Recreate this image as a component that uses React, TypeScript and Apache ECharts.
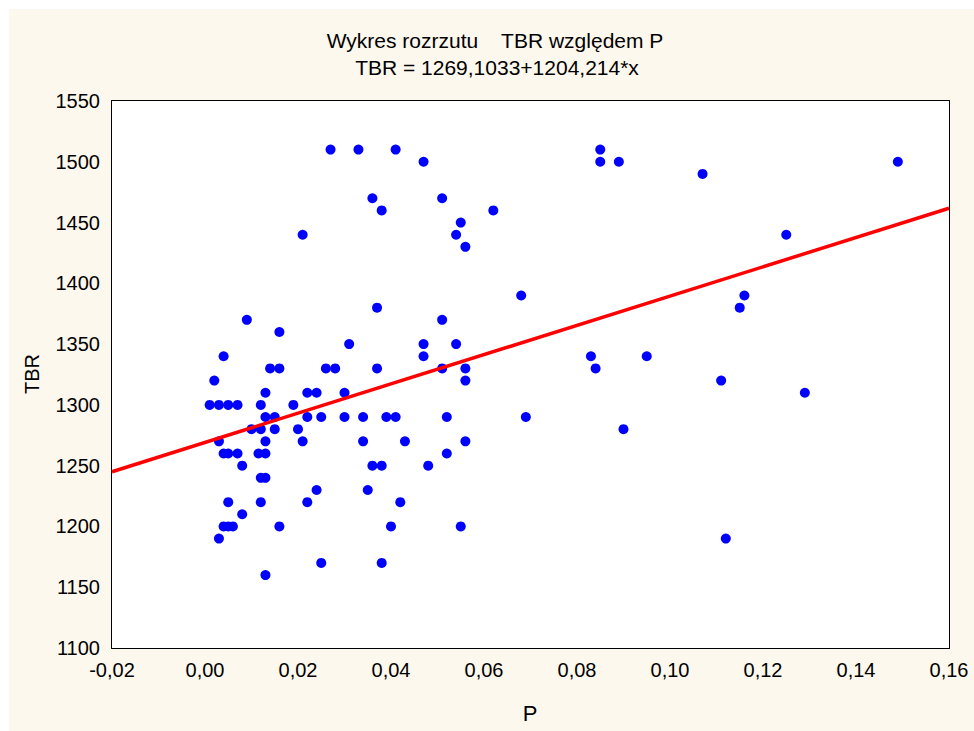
import React, { useEffect, useRef } from "react";
import * as echarts from "echarts";

const FONT = "'Liberation Sans', Arial, sans-serif";

// Scatter data: P (x) and TBR (y)
const pValues: number[] = [
  0.009, 0.016, 0.004, 0.014, 0.016, 0.002, 0.013, 0.022, 0.024, 0.001, 0.003, 0.005, 0.007, 0.012, 0.019,
  0.013, 0.015, 0.022, 0.025, 0.010, 0.012, 0.015, 0.020, 0.003, 0.013, 0.021, 0.004, 0.005, 0.007, 0.0115,
  0.013, 0.008, 0.012, 0.013, 0.024, 0.005, 0.012, 0.022, 0.008, 0.004, 0.005, 0.006, 0.016, 0.003, 0.013, 0.025,
  0.051, 0.031, 0.047, 0.054, 0.047, 0.026, 0.028, 0.037, 0.051, 0.056, 0.056, 0.030, 0.030, 0.034, 0.039,
  0.041, 0.052, 0.069, 0.034, 0.043, 0.056, 0.052, 0.036, 0.038, 0.048, 0.035, 0.042, 0.040, 0.055, 0.038,
  0.027, 0.033, 0.041, 0.047, 0.036, 0.051, 0.038, 0.062, 0.055, 0.054, 0.021, 0.056, 0.068, 0.037,
  0.085, 0.085, 0.089, 0.107, 0.149, 0.125, 0.116, 0.115, 0.083, 0.084, 0.095, 0.111, 0.129, 0.090, 0.112,
];
const tbrValues: number[] = [
  1370, 1360, 1340, 1330, 1330, 1320, 1310, 1310, 1310, 1300, 1300, 1300, 1300, 1300, 1300,
  1290, 1290, 1290, 1290, 1280, 1280, 1280, 1280, 1270, 1270, 1270, 1260, 1260, 1260, 1260,
  1260, 1250, 1240, 1240, 1230, 1220, 1220, 1220, 1210, 1200, 1200, 1200, 1200, 1190, 1160, 1170,
  1370, 1350, 1350, 1350, 1340, 1330, 1330, 1330, 1330, 1330, 1320, 1310, 1290, 1290, 1290,
  1290, 1290, 1290, 1270, 1270, 1270, 1260, 1250, 1250, 1250, 1230, 1220, 1200, 1200, 1170,
  1510, 1510, 1510, 1500, 1470, 1470, 1460, 1460, 1450, 1440, 1440, 1430, 1390, 1380,
  1510, 1500, 1500, 1490, 1500, 1440, 1390, 1380, 1340, 1330, 1340, 1320, 1310, 1280, 1190,
];

// Regression: TBR = 1269,1033 + 1204,214 * x
const intercept = 1269.1033;
const slope = 1204.214;
const lineX: number[] = [-0.02, 0.16];

const titleLines: string[] = ["Wykres rozrzutu    TBR względem P", "TBR = 1269,1033+1204,214*x"];
const xName = "P";
const yName = "TBR";

const xMin = -0.02, xMax = 0.16, xInterval = 0.02;
const yMin = 1100, yMax = 1550, yInterval = 50;

export default function App() {
  const ref = useRef<HTMLDivElement>(null);
  useEffect(() => {
    const chart = echarts.init(ref.current!, null, { renderer: "svg" });
    const axisLine = { show: true, onZero: false, lineStyle: { color: "#000", width: 2 } };
    const axisTick = { show: true, inside: true, length: 5, lineStyle: { color: "#000", width: 1.5 } };
    const minorLine = { color: "#000", width: 1.5 };
    const xFmt = (v: number) => v.toFixed(2).replace(".", ",");
    const yFmt = (v: number) => String(Math.round(v));
    const option: any = {
      animation: false,
      backgroundColor: "#ffffff",
      textStyle: { fontFamily: FONT },
      grid: { left: 112, right: 25, top: 101, bottom: 83, show: true, backgroundColor: "#ffffff", borderWidth: 0, z: 1 },
      graphic: [
        { type: "rect", left: 9, top: 9, shape: { width: 965, height: 722 }, style: { fill: "#FDF8EE" }, z: -100, silent: true },
        { type: "text", x: 495, y: 40, style: { text: titleLines[0], font: `21px ${FONT}`, fill: "#000", textAlign: "center", textVerticalAlign: "middle" } },
        { type: "text", x: 497, y: 67, style: { text: titleLines[1], font: `21px ${FONT}`, fill: "#000", textAlign: "center", textVerticalAlign: "middle" } },
        { type: "text", x: 530, y: 713, style: { text: xName, font: `22px ${FONT}`, fill: "#000", textAlign: "center", textVerticalAlign: "middle" } },
        { type: "text", x: 32, y: 374, rotation: Math.PI / 2, style: { text: yName, font: `20px ${FONT}`, fill: "#000", textAlign: "center", textVerticalAlign: "middle" } },
      ],
      xAxis: [
        {
          type: "value", position: "bottom", min: xMin, max: xMax, interval: xInterval,
          axisLine, axisTick,
          minorTick: { show: true, splitNumber: 2, length: 3, lineStyle: minorLine },
          splitLine: { show: true, lineStyle: { color: "#d8d8d8", width: 1 } },
          axisLabel: { formatter: xFmt, fontSize: 20, color: "#000", margin: 12, fontFamily: FONT },
        },
        {
          type: "value", position: "top", min: xMin, max: xMax, interval: xInterval,
          axisLine, axisTick,
          minorTick: { show: true, splitNumber: 2, length: 3, lineStyle: minorLine },
          splitLine: { show: false },
          axisLabel: { show: false },
        },
      ],
      yAxis: [
        {
          type: "value", position: "left", min: yMin, max: yMax, interval: yInterval,
          axisLine, axisTick,
          minorTick: { show: true, splitNumber: 5, length: 3, lineStyle: minorLine },
          splitLine: { show: true, lineStyle: { color: "#d8d8d8", width: 1 } },
          axisLabel: { formatter: yFmt, fontSize: 20, color: "#000", margin: 12, fontFamily: FONT },
        },
        {
          type: "value", position: "right", min: yMin, max: yMax, interval: yInterval,
          axisLine, axisTick,
          minorTick: { show: true, splitNumber: 5, length: 3, lineStyle: minorLine },
          splitLine: { show: false },
          axisLabel: { show: false },
        },
      ],
      series: [
        {
          type: "scatter", xAxisIndex: 0, yAxisIndex: 0,
          data: pValues.map((p, i) => [p, tbrValues[i]]),
          symbol: "circle", symbolSize: 10,
          itemStyle: { color: "#0000ff", opacity: 1 },
          z: 3,
        },
        {
          type: "line", xAxisIndex: 0, yAxisIndex: 0,
          data: lineX.map((x) => [x, intercept + slope * x]),
          showSymbol: false, symbol: "none",
          lineStyle: { color: "#ff0000", width: 3.5 },
          z: 4,
        },
      ],
    };
    chart.setOption(option);
    return () => chart.dispose();
  }, []);
  return <div ref={ref} style={{ position: "fixed", left: 0, top: 0, width: 974, height: 731 }} />;
}
